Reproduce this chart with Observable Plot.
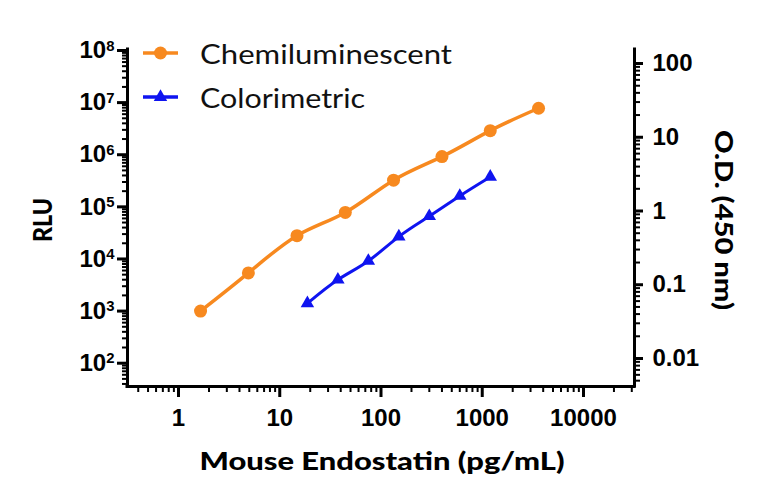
<!DOCTYPE html>
<html><head><meta charset="utf-8">
<script src="https://cdn.jsdelivr.net/npm/d3@7"></script>
<script src="https://cdn.jsdelivr.net/npm/@observablehq/plot@0.6"></script>
<style>body{margin:0;background:#fff;} #chart{width:768px;height:504px;}</style>
</head><body><div id="chart"></div>
<script>
// ---- data ----
const seriesNames = ["Chemiluminescent", "Colorimetric"];
const chemConc = [1.65, 4.9, 14.8, 44.4, 133, 400, 1200, 3600];
const chemRLU = [1000, 5400, 28000, 78000, 325000, 920000, 2900000, 7800000];
const colorConc = [18.75, 37.5, 75, 150, 300, 600, 1200];
const colorOD = [0.056, 0.117, 0.21, 0.45, 0.85, 1.6, 2.9];

const concTicks = [1, 10, 100, 1000, 10000];
const concTickLabels = ["1", "10", "100", "1000", "10000"];
const rluTicks = [1e2, 1e3, 1e4, 1e5, 1e6, 1e7, 1e8];
const odTicks = [0.01, 0.1, 1, 10, 100];
const odTickLabels = ["0.01", "0.1", "1", "10", "100"];

const xTitle = "Mouse Endostatin (pg/mL)";
const yTitle = "RLU";
const y2Title = "O.D. (450 nm)";

const xDomain = [10 ** -0.504, 10 ** 4.504];
const yDomain = [10 ** 1.553, 10 ** 8.019];
const odDomain = [10 ** -2.38, 10 ** 2.19];

const orange = "#f7891f", blue = "#0f14f0";
const tickFont = "'Liberation Sans Narrow','Liberation Sans',Arial,sans-serif";
const titleFont = "Lato,'Open Sans',sans-serif";

// ---- helpers ----
const L = Math.log10;
const odToY = od => 10 ** (L(yDomain[0]) + (L(od) - L(odDomain[0])) * (L(yDomain[1]) - L(yDomain[0])) / (L(odDomain[1]) - L(odDomain[0])));
function minors(domain) {
  const out = [];
  for (let e = Math.floor(L(domain[0])); e <= Math.ceil(L(domain[1])); e++)
    for (let m = 2; m <= 9; m++) { const v = m * 10 ** e; if (v >= domain[0] && v <= domain[1]) out.push(v); }
  return out;
}
const chem = chemConc.map((x, i) => ({x, y: chemRLU[i]}));
const color = colorConc.map((x, i) => ({x, y: odToY(colorOD[i])}));
const odTickRows = odTicks.map((t, i) => ({y: odToY(t), label: odTickLabels[i]}));

const chart = Plot.plot({
  width: 768, height: 504,
  marginLeft: 127, marginRight: 134, marginTop: 49, marginBottom: 118,
  x: {type: "log", domain: xDomain, axis: null},
  y: {type: "log", domain: yDomain, axis: null},
  style: {fontFamily: tickFont, background: "white", color: "black", overflow: "visible"},
  marks: [
    Plot.axisX(minors(xDomain), {label: null, tickSize: 6, strokeWidth: 2, tickFormat: () => ""}),
    Plot.axisX(concTicks, {label: null, tickSize: 11, tickPadding: 11, strokeWidth: 3, fontSize: 24, fontWeight: "bold",
      tickFormat: d => concTickLabels[concTicks.indexOf(d)]}),
    Plot.axisY(minors(yDomain), {label: null, anchor: "left", tickSize: 5, strokeWidth: 2, tickFormat: () => ""}),
    Plot.axisY(rluTicks, {label: null, anchor: "left", tickSize: 10, tickPadding: 3, strokeWidth: 3, fontSize: 24, fontWeight: "bold",
      tickFormat: d => "10^" + Math.round(L(d))}),
    Plot.axisY(minors(odDomain).map(odToY), {label: null, anchor: "right", tickSize: 5, strokeWidth: 2, tickFormat: () => ""}),
    Plot.axisY(odTickRows.map(d => d.y), {label: null, anchor: "right", tickSize: 8, strokeWidth: 3, tickFormat: () => ""}),
    Plot.text(odTickRows, {x: () => xDomain[1], y: "y", text: "label", dx: 18, textAnchor: "start",
      fontSize: 24, fontWeight: "bold", fontFamily: tickFont}),
    Plot.ruleX([xDomain[0], xDomain[1]], {strokeWidth: 3, strokeLinecap: "square"}),
    Plot.ruleY([yDomain[0]], {strokeWidth: 3, strokeLinecap: "square"}),
    Plot.line(chem, {x: "x", y: "y", stroke: orange, strokeWidth: 3.5, curve: "natural"}),
    Plot.dot(chem, {x: "x", y: "y", fill: orange, r: 6.5}),
    Plot.line(color, {x: "x", y: "y", stroke: blue, strokeWidth: 3, curve: "natural"}),
    Plot.dot(color, {x: "x", y: "y", fill: blue, symbol: "triangle", r: 5})
  ]
});

const svg = d3.select(chart);
// superscripts on RLU ticks
svg.selectAll("text").each(function () {
  const m = /^10\^(\d)$/.exec(this.textContent);
  if (m) {
    const s = d3.select(this);
    s.text("10");
    s.append("tspan").attr("dy", "-0.5em").attr("font-size", "0.62em").text(m[1]);
  }
});

// axis titles
const titleG = svg.append("g").attr("font-family", titleFont).attr("font-weight", 900).attr("fill", "black");
titleG.append("text").attr("transform", "translate(382,470)").attr("text-anchor", "middle")
  .attr("font-size", 25).attr("textLength", 365).attr("lengthAdjust", "spacingAndGlyphs").text(xTitle);
titleG.append("text").attr("transform", "translate(42,220) rotate(-90)").attr("text-anchor", "middle")
  .attr("dominant-baseline", "central").attr("font-size", 26).attr("textLength", 44).attr("lengthAdjust", "spacingAndGlyphs").text(yTitle);
titleG.append("text").attr("transform", "translate(725,220) rotate(90)").attr("text-anchor", "middle")
  .attr("dominant-baseline", "central").attr("font-size", 25).attr("textLength", 180).attr("lengthAdjust", "spacingAndGlyphs").text(y2Title);

// legend
const legendItems = [
  {name: seriesNames[0], color: orange, symbol: d3.symbolCircle, size: Math.PI * 6.5 * 6.5, cy: 53, len: 252},
  {name: seriesNames[1], color: blue, symbol: d3.symbolTriangle, size: Math.PI * 25, cy: 97, len: 165}
];
const lg = svg.append("g").attr("text-anchor", "start");
legendItems.forEach(it => {
  const g = lg.append("g").attr("transform", `translate(0,${it.cy})`);
  g.append("line").attr("x1", 143).attr("x2", 178).attr("stroke", it.color).attr("stroke-width", 3.5);
  g.append("path").attr("transform", "translate(160.5,0)").attr("d", d3.symbol(it.symbol, it.size)()).attr("fill", it.color);
  g.append("text").attr("x", 200).attr("text-anchor", "start").attr("dominant-baseline", "central").attr("font-family", titleFont)
    .attr("font-size", 27).attr("font-weight", 400).attr("fill", "#111")
    .attr("textLength", it.len).attr("lengthAdjust", "spacingAndGlyphs").text(it.name);
});

document.getElementById("chart").appendChild(chart);
</script>
</body></html>
